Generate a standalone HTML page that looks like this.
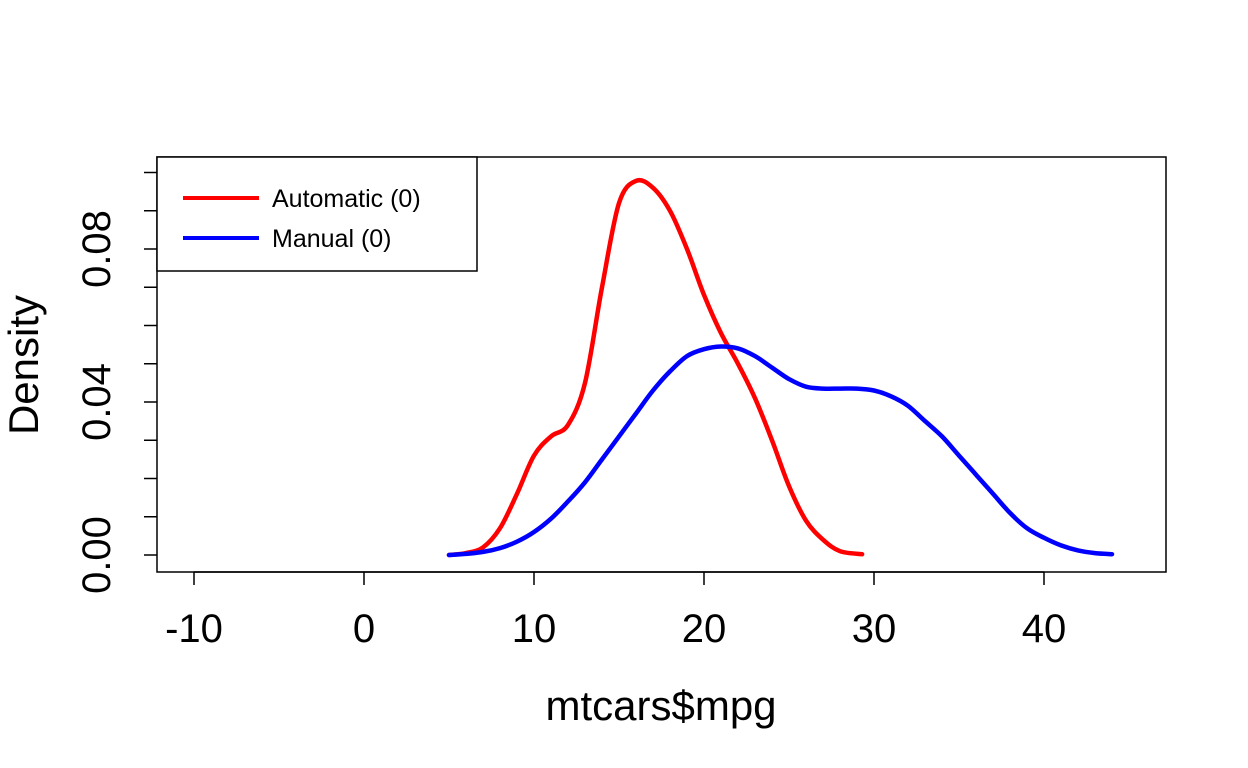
<!DOCTYPE html>
<html><head><meta charset="utf-8"><style>
body{margin:0;background:#fff;}
svg{display:block;font-family:"Liberation Sans",Arial,sans-serif;}
</style></head><body>
<svg id="chart" width="1248" height="768" xmlns="http://www.w3.org/2000/svg">
<rect x="157" y="157" width="1009" height="415" fill="none" stroke="#000" stroke-width="1.5"/>
<g id="axes"></g>
<g id="series"></g>
<g>
<rect x="157" y="157" width="320" height="114" fill="#fff" stroke="#000" stroke-width="1.5"/>
<line x1="183" y1="198" x2="259" y2="198" stroke="#f00" stroke-width="4"/>
<text x="272" y="207" font-size="25">Automatic (0)</text>
<line x1="183" y1="238" x2="259" y2="238" stroke="#00f" stroke-width="4"/>
<text x="272" y="247" font-size="25">Manual (0)</text>
</g>
<text x="661" y="720" font-size="42" text-anchor="middle">mtcars$mpg</text>
<text transform="translate(38,365) rotate(-90)" font-size="42" text-anchor="middle">Density</text>
</svg>
<script>
const xTicks=[-10,0,10,20,30,40];
const yTicks=[0,0.01,0.02,0.03,0.04,0.05,0.06,0.07,0.08,0.09,0.10];
const yLabels=[0,0.04,0.08];
const autoX=[5,6,7,8,9,10,11,12,13,14,15,16,17,18,19,20,21,22,23,24,25,26,27,28,29.3];
const autoY=[0,0.0005,0.002,0.007,0.016,0.026,0.031,0.034,0.045,0.07,0.092,0.0978,0.096,0.09,0.08,0.068,0.058,0.05,0.041,0.03,0.018,0.009,0.004,0.001,0.0002];
const manX=[5,6,7,8,9,10,11,12,13,14,15,16,17,18,19,20,21,22,23,24,25,26,27,28,29,30,31,32,33,34,35,36,37,38,39,40,41,42,43,44];
const manY=[0,0.0003,0.0008,0.0018,0.0035,0.006,0.0095,0.014,0.019,0.025,0.031,0.037,0.043,0.048,0.052,0.0538,0.0545,0.054,0.052,0.049,0.046,0.044,0.0435,0.0435,0.0435,0.043,0.0415,0.039,0.035,0.031,0.026,0.021,0.016,0.011,0.007,0.0045,0.0025,0.0012,0.0005,0.0002];
const NS="http://www.w3.org/2000/svg";
const sx=v=>364+17*v, sy=v=>555-3825*v;
const axes=document.getElementById('axes'), series=document.getElementById('series');
function mk(t,a,p){const e=document.createElementNS(NS,t);for(const k in a)e.setAttribute(k,a[k]);p.appendChild(e);return e;}
xTicks.forEach(v=>{
 const l=mk('line',{x1:sx(v),x2:sx(v),y1:572,y2:585,stroke:'#000','stroke-width':1.5},axes);
 
 
 const t=mk('text',{x:sx(v),y:642,'font-size':40,'text-anchor':'middle'},axes);t.textContent=v;
 
 
});
mk('line',{x1:sx(-10),x2:sx(40),y1:572,y2:572,stroke:'#000','stroke-width':1.5},axes);
yTicks.forEach(v=>{
 const l=mk('line',{x1:144,x2:157,y1:sy(v),y2:sy(v),stroke:'#000','stroke-width':1.5},axes);
 
 
});
yLabels.forEach(v=>{
 const t=mk('text',{transform:`translate(110,${sy(v)}) rotate(-90)`,'font-size':40,'text-anchor':'middle'},axes);t.textContent=v.toFixed(2);
 
 
});
function line(xs,ys,col,name){
 const P=xs.map((x,i)=>[sx(x),sy(ys[i])]);
 let d='M'+P[0][0].toFixed(1)+','+P[0][1].toFixed(1);
 for(let i=0;i<P.length-1;i++){
  const p0=P[Math.max(0,i-1)],p1=P[i],p2=P[i+1],p3=P[Math.min(P.length-1,i+2)];
  const c1=[p1[0]+(p2[0]-p0[0])/6,p1[1]+(p2[1]-p0[1])/6];
  const c2=[p2[0]-(p3[0]-p1[0])/6,p2[1]-(p3[1]-p1[1])/6];
  d+=` C${c1[0].toFixed(1)},${c1[1].toFixed(1)} ${c2[0].toFixed(1)},${c2[1].toFixed(1)} ${p2[0].toFixed(1)},${p2[1].toFixed(1)}`;
 }
 const p=mk('path',{d:d,fill:'none',stroke:col,'stroke-width':4.5,'stroke-linejoin':'round','stroke-linecap':'round'},series);
 
 
}
line(autoX,autoY,'#f00','automatic-density-line');
line(manX,manY,'#00f','manual-density-line');
</script>
</body></html>
